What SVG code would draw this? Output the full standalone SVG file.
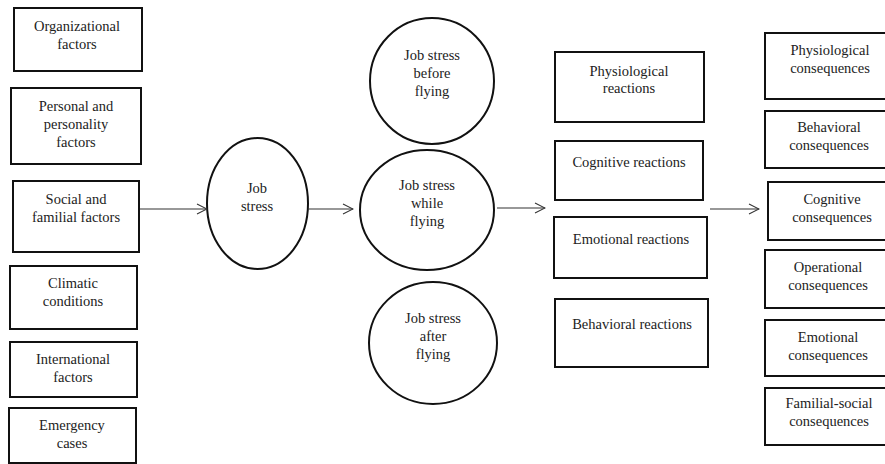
<svg xmlns="http://www.w3.org/2000/svg" width="885" height="464" viewBox="0 0 885 464">
<defs>
<marker id="arr" markerWidth="12" markerHeight="12" viewBox="0 0 12 12" refX="11" refY="6" orient="auto" markerUnits="userSpaceOnUse">
<path d="M1,1 L11,6 L1,11" fill="none" stroke="#333" stroke-width="1.1"/>
</marker>
</defs>
<style>
.box{fill:#fff;stroke:#111;stroke-width:2}
.ell{fill:#fff;stroke:#111;stroke-width:2}
text{font-family:Liberation Serif,Tinos,Times New Roman,serif;font-size:14.5px;fill:#222;text-anchor:middle}
.con line{stroke:#333;stroke-width:1.2;marker-end:url(#arr)}
</style>
<rect width="885" height="464" fill="#fff"/>
<g id="organizational"><rect class="box" x="14" y="8" width="128" height="63"/><text x="77" y="31">Organizational</text><text x="77" y="49">factors</text></g>
<g id="personal"><rect class="box" x="11" y="88" width="130" height="76"/><text x="76" y="111">Personal and</text><text x="76" y="129">personality</text><text x="76" y="147">factors</text></g>
<g id="social"><rect class="box" x="13" y="181" width="126" height="71"/><text x="76" y="204">Social and</text><text x="76" y="222">familial factors</text></g>
<g id="climatic"><rect class="box" x="10" y="266" width="127" height="63"/><text x="73" y="288">Climatic</text><text x="73" y="306">conditions</text></g>
<g id="international"><rect class="box" x="10" y="342" width="127" height="55"/><text x="73" y="364">International</text><text x="73" y="382">factors</text></g>
<g id="emergency"><rect class="box" x="9" y="408" width="127" height="55"/><text x="72" y="430">Emergency</text><text x="72" y="448">cases</text></g>
<g id="jobstress"><ellipse class="ell" cx="257.5" cy="203.5" rx="50.5" ry="65.5"/><text x="257" y="193">Job</text><text x="257" y="211">stress</text></g>
<g id="before"><ellipse class="ell" cx="432" cy="81" rx="62" ry="63"/><text x="432" y="60">Job stress</text><text x="432" y="78">before</text><text x="432" y="96">flying</text></g>
<g id="while"><ellipse class="ell" cx="427" cy="210" rx="67" ry="60"/><text x="427" y="190">Job stress</text><text x="427" y="208">while</text><text x="427" y="226">flying</text></g>
<g id="after"><ellipse class="ell" cx="433" cy="343" rx="64" ry="61"/><text x="433" y="323">Job stress</text><text x="433" y="341">after</text><text x="433" y="359">flying</text></g>
<g id="physio-react"><rect class="box" x="555" y="52" width="149" height="70"/><text x="629" y="76">Physiological</text><text x="629" y="93">reactions</text></g>
<g id="cog-react"><rect class="box" x="555" y="141" width="148" height="59"/><text x="629" y="167">Cognitive reactions</text></g>
<g id="emo-react"><rect class="box" x="554" y="217" width="153" height="61"/><text x="631" y="244">Emotional reactions</text></g>
<g id="beh-react"><rect class="box" x="555" y="299" width="153" height="68"/><text x="632" y="329">Behavioral reactions</text></g>
<g id="physio-cons"><rect class="box" x="765" y="33" width="125" height="66"/><text x="830" y="55">Physiological</text><text x="830" y="73">consequences</text></g>
<g id="beh-cons"><rect class="box" x="765" y="111" width="125" height="57"/><text x="829" y="132">Behavioral</text><text x="829" y="150">consequences</text></g>
<g id="cog-cons"><rect class="box" x="768" y="182" width="122" height="58"/><text x="832" y="204">Cognitive</text><text x="832" y="222">consequences</text></g>
<g id="op-cons"><rect class="box" x="765" y="250" width="125" height="58"/><text x="828" y="272">Operational</text><text x="828" y="290">consequences</text></g>
<g id="emo-cons"><rect class="box" x="765" y="320" width="125" height="56"/><text x="828" y="342">Emotional</text><text x="828" y="360">consequences</text></g>
<g id="fam-cons"><rect class="box" x="765" y="388" width="125" height="57"/><text x="829" y="408">Familial-social</text><text x="829" y="426">consequences</text></g>
<g id="connectors" class="con">
<line x1="140" y1="209" x2="207" y2="209"/>
<line x1="308" y1="209" x2="353" y2="209"/>
<line x1="497" y1="208" x2="545" y2="208"/>
<line x1="710" y1="209" x2="759" y2="209"/>
</g>
</svg>
